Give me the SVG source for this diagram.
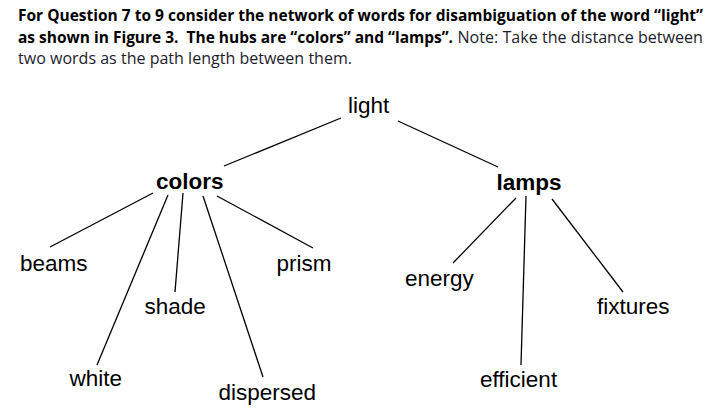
<svg xmlns="http://www.w3.org/2000/svg" width="713" height="418" viewBox="0 0 713 418">
<style>
.hb{font-family:"Open Sans","Liberation Sans",sans-serif;font-size:15.5px;font-weight:bold;fill:#000}
.hn{font-family:"Open Sans","Liberation Sans",sans-serif;font-size:15.5px;fill:#1c1c2c}
.w{font-family:"Liberation Sans",Arial,sans-serif;font-size:22.5px;fill:#000}
.hub{font-family:"Liberation Sans",Arial,sans-serif;font-size:22.5px;font-weight:bold;fill:#000}
.e{stroke:#000;stroke-width:1.3;fill:none}
</style>
<rect width="713" height="418" fill="#fff"/>
<g id="header">
<text class="hb" x="18" y="21" textLength="685" lengthAdjust="spacingAndGlyphs">For Question 7 to 9 consider the network of words for disambiguation of the word “light”</text>
<text class="hb" x="18" y="42.5" textLength="435" lengthAdjust="spacingAndGlyphs" xml:space="preserve">as shown in Figure 3.  The hubs are “colors” and “lamps”.</text>
<text class="hn" x="457.5" y="42.5" textLength="245.5" lengthAdjust="spacingAndGlyphs">Note: Take the distance between</text>
<text class="hn" x="18" y="64" textLength="334" lengthAdjust="spacingAndGlyphs">two words as the path length between them.</text>
</g>
<g id="connectors">
<line class="e" x1="341" y1="118" x2="224" y2="166"/>
<line class="e" x1="398" y1="121" x2="498" y2="167"/>
<line class="e" x1="153" y1="193" x2="50" y2="247"/>
<line class="e" x1="168" y1="195" x2="97" y2="365"/>
<line class="e" x1="183" y1="193" x2="175" y2="292"/>
<line class="e" x1="203" y1="196" x2="263" y2="377"/>
<line class="e" x1="217" y1="196" x2="313" y2="248"/>
<line class="e" x1="516" y1="198" x2="453" y2="263"/>
<line class="e" x1="526" y1="196" x2="521" y2="365"/>
<line class="e" x1="552" y1="199" x2="623" y2="292"/>
</g>
<g id="light"><text class="w" x="348" y="113">light</text></g>
<g id="colors"><text class="hub" x="156" y="189">colors</text></g>
<g id="lamps"><text class="hub" x="496.5" y="190">lamps</text></g>
<g id="beams"><text class="w" x="20" y="271">beams</text></g>
<g id="prism"><text class="w" x="276.5" y="271">prism</text></g>
<g id="shade"><text class="w" x="144.5" y="314">shade</text></g>
<g id="white"><text class="w" x="69.5" y="386">white</text></g>
<g id="dispersed"><text class="w" x="218.5" y="399.5">dispersed</text></g>
<g id="energy"><text class="w" x="405" y="285.5">energy</text></g>
<g id="fixtures"><text class="w" x="597" y="314">fixtures</text></g>
<g id="efficient"><text class="w" x="480" y="386.5">efficient</text></g>
</svg>
